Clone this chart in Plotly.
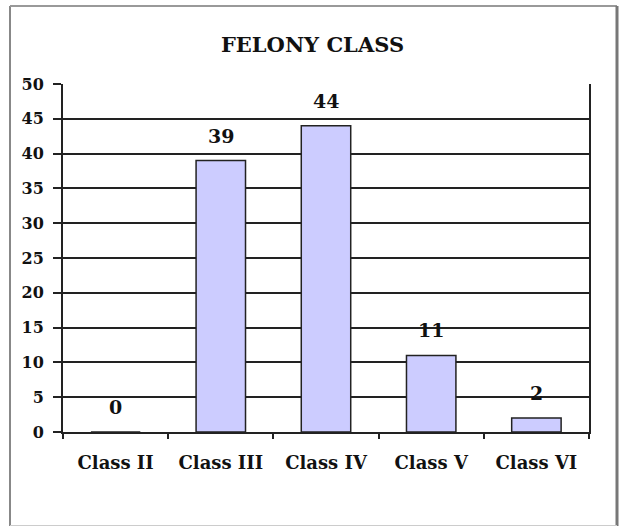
import plotly.graph_objects as go

categories = ["Class II", "Class III", "Class IV", "Class V", "Class VI"]
values = [0, 39, 44, 11, 2]
y_ticks = [0, 5, 10, 15, 20, 25, 30, 35, 40, 45, 50]
title_text = "FELONY CLASS"

FONT = "DejaVu Serif, serif"
W, H = 625, 527
L, R, T, B = 63, 36, 84, 95

fig = go.Figure()
fig.add_trace(go.Bar(
    x=categories, y=values,
    marker=dict(color="#CCCCFF", line=dict(color="#222222", width=1.5)),
    width=0.47, cliponaxis=False, hoverinfo="skip",
))

for c, v in zip(categories, values):
    fig.add_annotation(x=c, y=v, text=str(v), showarrow=False, yanchor="middle",
                       yshift=25, font=dict(family=FONT, size=19, color="#111", weight=700))

pw = W - L - R
ph = H - T - B
def px(x):
    return (x - L) / pw
def py(y):
    return (H - B - y) / ph

# outer frame
fig.add_shape(type="line", xref="paper", yref="paper", x0=px(10), x1=px(10), y0=py(6), y1=py(526), line=dict(color="#888", width=2))
fig.add_shape(type="line", xref="paper", yref="paper", x0=px(10), x1=px(617), y0=py(6), y1=py(6), line=dict(color="#999", width=2))
fig.add_shape(type="line", xref="paper", yref="paper", x0=px(617), x1=px(617), y0=py(6), y1=py(526), line=dict(color="#777", width=3))
fig.add_shape(type="line", xref="paper", yref="paper", x0=px(10), x1=px(617), y0=py(525.5), y1=py(525.5), line=dict(color="#ccc", width=1))

fig.update_layout(
    width=W, height=H,
    margin=dict(l=L, r=R, t=T, b=B),
    paper_bgcolor="white", plot_bgcolor="white",
    showlegend=False,
    title=dict(text=title_text, x=0.5, xanchor="center", y=1 - 45 / H, yanchor="middle",
               yref="container", font=dict(family=FONT, size=21, color="#111", weight=700)),
    font=dict(family=FONT, color="#111"),
)
fig.update_xaxes(
    type="category", showline=True, linecolor="#222", linewidth=2,
    ticks="outside", tickson="boundaries", ticklen=5, tickcolor="#222", tickwidth=2,
    ticklabelstandoff=13, showgrid=False,
    tickfont=dict(family=FONT, size=18, color="#111", weight=700),
)
fig.update_yaxes(
    range=[0, 50], tickvals=y_ticks, showgrid=True, gridcolor="#222", gridwidth=1.6,
    showline=True, linecolor="#222", linewidth=2, mirror=True,
    ticks="outside", ticklen=8, tickcolor="#222", tickwidth=2, ticklabelstandoff=6,
    zeroline=False,
    tickfont=dict(family=FONT, size=16, color="#111", weight=700),
)
fig.write_html("out.html", config={"displayModeBar": False},
               post_script="document.body.style.margin='0';")
